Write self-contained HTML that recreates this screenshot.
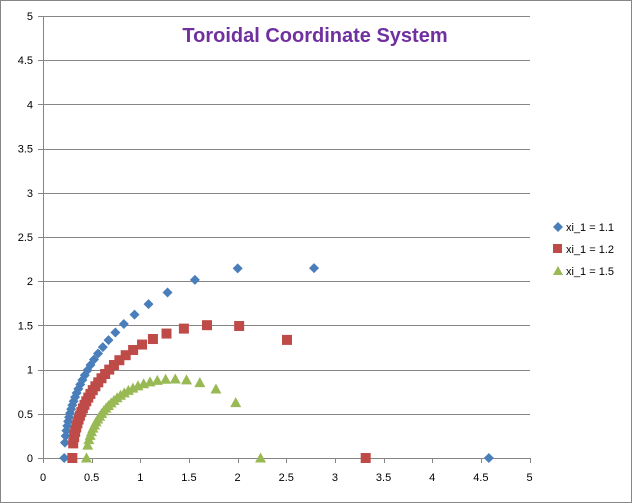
<!DOCTYPE html>
<html><head><meta charset="utf-8"><style>
html,body{margin:0;padding:0;background:#fff;}
svg{display:block;font-family:"Liberation Sans",sans-serif;}
</style></head><body>
<svg id="c" width="632" height="503" xmlns="http://www.w3.org/2000/svg">
<rect x="0.5" y="0.5" width="631" height="502" fill="#fff" stroke="#868686"/>
<g id="grid" stroke="#868686" stroke-width="1"></g>
<text x="315" y="42" text-anchor="middle" font-size="20" font-weight="bold" fill="#7030a0">Toroidal Coordinate System</text>
<g id="pts"></g>
<g font-size="11" fill="#000">
<path d="M558 222 l5 5 l-5 5 l-5 -5z" fill="#4a7ebb"/><text x="566" y="231">xi_1 = 1.1</text>
<rect x="553" y="244" width="9" height="9" fill="#be4b48"/><text x="566" y="253">xi_1 = 1.2</text>
<path d="M558 266 l5 9 h-10z" fill="#98b954"/><text x="566" y="275">xi_1 = 1.5</text>
</g>
</svg>
<script>
function X(v){return 43+v*97.3;}function Y(v){return 458-v*88.4;}
var g=document.getElementById('grid'),s='';
for(var i=0;i<=10;i++){var y=Y(i*0.5);
 if(i>0)s+='<line x1="43" x2="530" y1="'+(Math.round(y)+0.5)+'" y2="'+(Math.round(y)+0.5)+'"/>';
 s+='<line x1="38" x2="43" y1="'+(Math.round(y)+0.5)+'" y2="'+(Math.round(y)+0.5)+'"/>';
 s+='<text x="33" y="'+(y+4)+'" text-anchor="end" font-size="11" stroke="none" fill="#000">'+(i*0.5)+'</text>';
 var x=X(i*0.5);
 s+='<line x1="'+(Math.round(x)+0.5)+'" x2="'+(Math.round(x)+0.5)+'" y1="458" y2="463"/>';
 s+='<text x="'+x+'" y="481" text-anchor="middle" font-size="11" stroke="none" fill="#000">'+(i*0.5)+'</text>';
}
s+='<line x1="43.5" x2="43.5" y1="16" y2="458"/><line x1="43" x2="530" y1="458.5" y2="458.5"/>';
g.innerHTML=s;
var p='';
[[1.1,'#4a7ebb','d'],[1.2,'#be4b48','s'],[1.5,'#98b954','t']].forEach(function(a){
 var c=a[0],sh=Math.sqrt(c*c-1);
 for(var k=0;k<=31;k++){var co=1-k*2/31,si=Math.sqrt(Math.max(0,1-co*co));
  var x=X(sh/(c-co)),y=Y(si/(c-co));
  if(a[2]=='d')p+='<path d="M'+x+' '+(y-5)+' l5 5 l-5 5 l-5 -5z" fill="'+a[1]+'"/>';
  else if(a[2]=='s')p+='<rect x="'+(x-5)+'" y="'+(y-5)+'" width="10" height="10" fill="'+a[1]+'"/>';
  else p+='<path d="M'+x+' '+(y-5.5)+' l5.5 10 h-11z" fill="'+a[1]+'"/>';
 }});
document.getElementById('pts').innerHTML=p;
</script>
</body></html>
